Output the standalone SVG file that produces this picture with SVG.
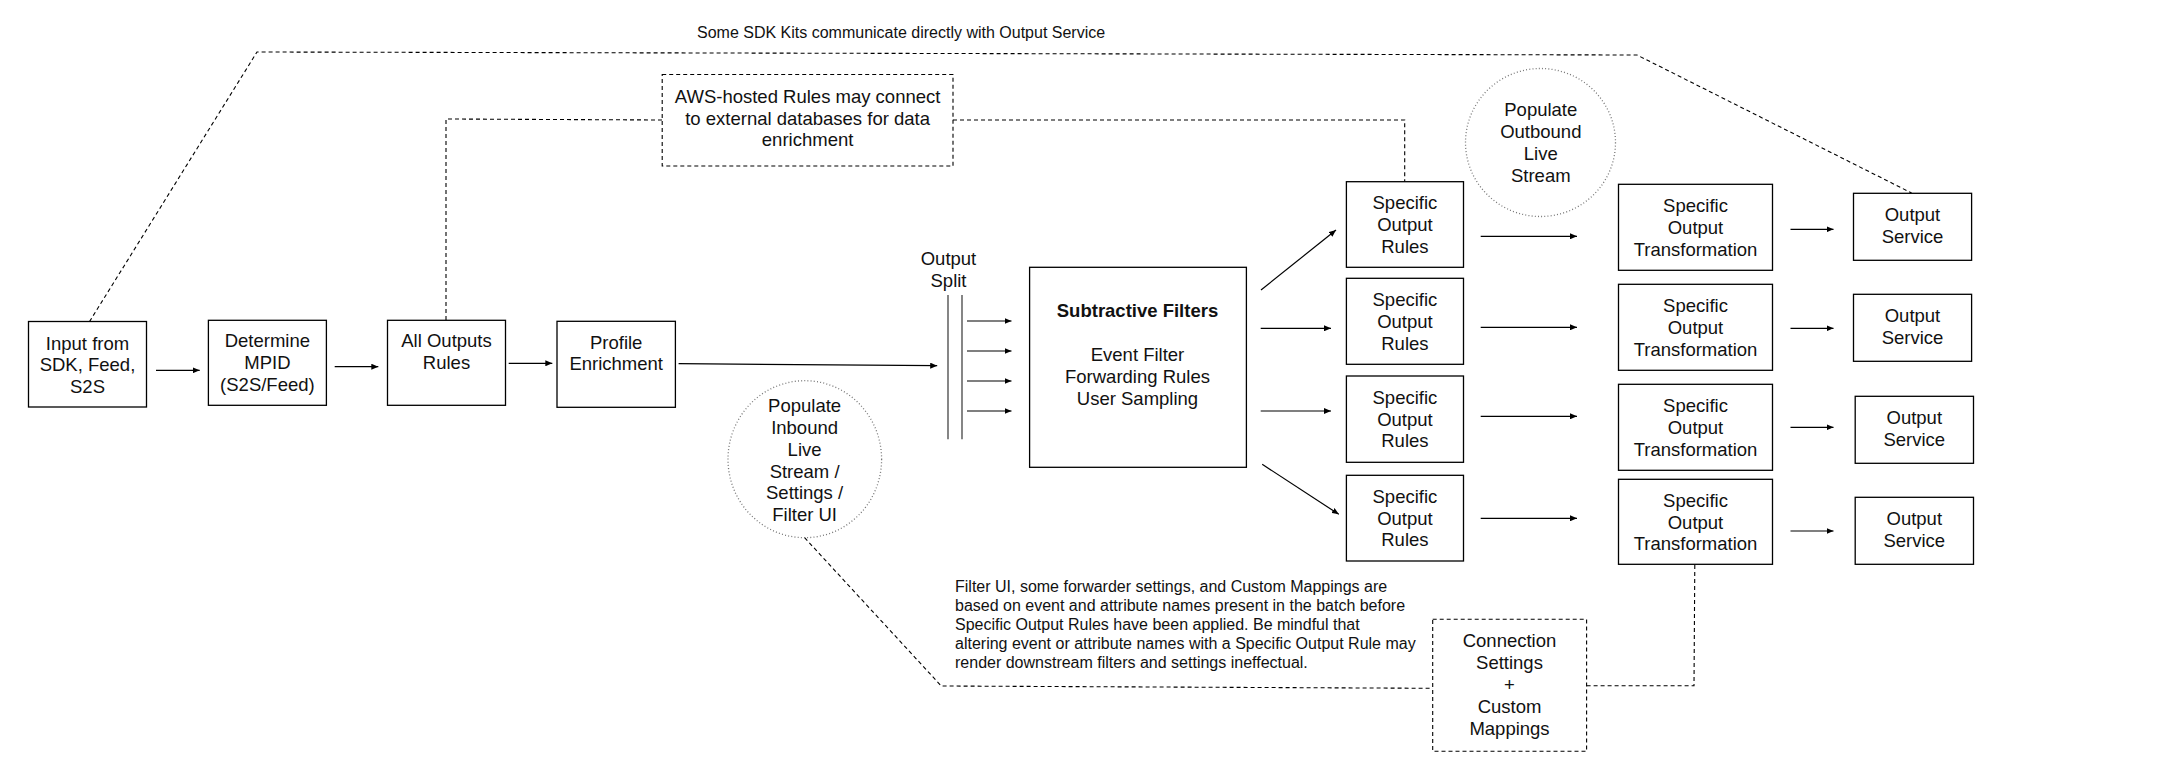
<svg xmlns="http://www.w3.org/2000/svg" width="2164" height="778" viewBox="0 0 2164 778">
<style>
.box{fill:#fff;stroke:#000;stroke-width:1.3}
.dbox{fill:#fff;stroke:#000;stroke-width:1.1;stroke-dasharray:4 3}
.dot{fill:none;stroke:#777;stroke-width:1.3;stroke-dasharray:1 2.2}
.t{font-family:"Liberation Sans",Arial,sans-serif;font-size:18.5px;fill:#111;text-anchor:middle}
.b{font-weight:bold}
.s{font-family:"Liberation Sans",Arial,sans-serif;font-size:16px;fill:#111}
.a{fill:none;stroke:#000;stroke-width:1.2;marker-end:url(#ah)}
.d{fill:none;stroke:#000;stroke-width:1.1;stroke-dasharray:4 3}
.sp{stroke:#444;stroke-width:1.3}
</style>
<defs>
<marker id="ah" markerUnits="userSpaceOnUse" markerWidth="8" markerHeight="6" refX="7" refY="3" orient="auto">
<path d="M0,0 L7,3 L0,6 z" fill="#000"/>
</marker>
</defs>
<rect width="2164" height="778" fill="#fff"/>
<g id="connectors">
<polyline class="d" points="89.5,321.6 257,52 1637,55 1911.6,193"/>
<polyline class="d" points="446,320 446,119 662.2,120"/>
<polyline class="d" points="953,120 1404.7,120 1404.7,181.7"/>
<polyline class="d" points="804.6,537.7 941.3,686 1432.7,688.3"/>
<polyline class="d" points="1586.6,685.7 1694,685.7 1694.8,564.3"/>
<line class="a" x1="156" y1="370.3" x2="199.7" y2="370.3"/>
<line class="a" x1="334.7" y1="366.7" x2="378.3" y2="366.7"/>
<line class="a" x1="508.7" y1="363.3" x2="552.3" y2="363.3"/>
<line class="a" x1="678.6" y1="363.7" x2="937.2" y2="365.7"/>
<line class="a" x1="967" y1="321" x2="1011.5" y2="321"/>
<line class="a" x1="967" y1="351" x2="1011.5" y2="351"/>
<line class="a" x1="967" y1="381" x2="1011.5" y2="381"/>
<line class="a" x1="967" y1="411" x2="1011.5" y2="411"/>
<line class="a" x1="1261" y1="290" x2="1336" y2="230"/>
<line class="a" x1="1260.7" y1="328.3" x2="1331" y2="328.3"/>
<line class="a" x1="1260.7" y1="411" x2="1331" y2="411"/>
<line class="a" x1="1262.2" y1="464.3" x2="1338.8" y2="514.3"/>
<line class="a" x1="1480.7" y1="236.3" x2="1577" y2="236.3"/>
<line class="a" x1="1480.7" y1="327.3" x2="1577" y2="327.3"/>
<line class="a" x1="1480.7" y1="416.3" x2="1577" y2="416.3"/>
<line class="a" x1="1480.7" y1="518.3" x2="1577" y2="518.3"/>
<line class="a" x1="1790.5" y1="229.3" x2="1833.5" y2="229.3"/>
<line class="a" x1="1790.5" y1="328.3" x2="1833.5" y2="328.3"/>
<line class="a" x1="1790.5" y1="427.3" x2="1833.5" y2="427.3"/>
<line class="a" x1="1790.5" y1="531" x2="1833.5" y2="531"/>
</g>
<g id="label-sdk"><text class="s" x="697" y="38">Some SDK Kits communicate directly with Output Service</text></g>
<g id="node-input"><rect class="box" x="28.5" y="321.5" width="118" height="85.5"/>
<text class="t" x="87.5" y="349.5">Input from</text><text class="t" x="87.5" y="371">SDK, Feed,</text><text class="t" x="87.5" y="392.5">S2S</text></g>
<g id="node-mpid"><rect class="box" x="208.4" y="320.3" width="118" height="85"/>
<text class="t" x="267.4" y="347">Determine</text><text class="t" x="267.4" y="369">MPID</text><text class="t" x="267.4" y="390.5">(S2S/Feed)</text></g>
<g id="node-allrules"><rect class="box" x="387.5" y="320.3" width="118" height="85"/>
<text class="t" x="446.5" y="347">All Outputs</text><text class="t" x="446.5" y="369">Rules</text></g>
<g id="node-profile"><rect class="box" x="557" y="321.3" width="118.4" height="86"/>
<text class="t" x="616.2" y="349">Profile</text><text class="t" x="616.2" y="370">Enrichment</text></g>
<g id="node-aws"><rect class="dbox" x="662.2" y="74.5" width="290.8" height="91.5"/>
<text class="t" x="807.6" y="102.5">AWS-hosted Rules may connect</text><text class="t" x="807.6" y="124.5">to external databases for data</text><text class="t" x="807.6" y="146">enrichment</text></g>
<g id="node-split">
<line class="sp" x1="948" y1="295" x2="948" y2="439.3"/><line class="sp" x1="962" y1="295" x2="962" y2="439.3"/>
<text class="t" x="948.5" y="265">Output</text><text class="t" x="948.5" y="286.5">Split</text></g>
<g id="node-filters"><rect class="box" x="1029.6" y="267.3" width="216.8" height="200"/>
<text class="t b" x="1137.5" y="316.5">Subtractive Filters</text>
<text class="t" x="1137.5" y="360.5">Event Filter</text><text class="t" x="1137.5" y="382.5">Forwarding Rules</text><text class="t" x="1137.5" y="405">User Sampling</text></g>
<g id="node-inbound"><ellipse class="dot" cx="804.8" cy="459.2" rx="76.8" ry="78.5"/>
<text class="t" x="804.6" y="411.8">Populate</text><text class="t" x="804.6" y="433.5">Inbound</text><text class="t" x="804.6" y="455.5">Live</text><text class="t" x="804.6" y="477.5">Stream /</text><text class="t" x="804.6" y="499.2">Settings /</text><text class="t" x="804.6" y="520.8">Filter UI</text></g>
<g id="node-outbound"><ellipse class="dot" cx="1540.5" cy="142.5" rx="75" ry="74"/>
<text class="t" x="1540.8" y="115.8">Populate</text><text class="t" x="1540.8" y="137.5">Outbound</text><text class="t" x="1540.8" y="159.8">Live</text><text class="t" x="1540.8" y="181.5">Stream</text></g>
<g id="node-sor1"><rect class="box" x="1346.4" y="181.7" width="117.1" height="85.6"/>
<text class="t" x="1404.9" y="209.2">Specific</text><text class="t" x="1404.9" y="231">Output</text><text class="t" x="1404.9" y="252.7">Rules</text></g>
<g id="node-sor2"><rect class="box" x="1346.4" y="278.3" width="117.1" height="86"/>
<text class="t" x="1404.9" y="306">Specific</text><text class="t" x="1404.9" y="327.8">Output</text><text class="t" x="1404.9" y="349.5">Rules</text></g>
<g id="node-sor3"><rect class="box" x="1346.4" y="376" width="117.1" height="86.3"/>
<text class="t" x="1404.9" y="403.8">Specific</text><text class="t" x="1404.9" y="425.6">Output</text><text class="t" x="1404.9" y="447.3">Rules</text></g>
<g id="node-sor4"><rect class="box" x="1346.4" y="475.3" width="117.1" height="85.7"/>
<text class="t" x="1404.9" y="502.9">Specific</text><text class="t" x="1404.9" y="524.7">Output</text><text class="t" x="1404.9" y="546.4">Rules</text></g>
<g id="node-sot1"><rect class="box" x="1618.5" y="184.3" width="154" height="86"/>
<text class="t" x="1695.5" y="212.2">Specific</text><text class="t" x="1695.5" y="234">Output</text><text class="t" x="1695.5" y="255.7">Transformation</text></g>
<g id="node-sot2"><rect class="box" x="1618.5" y="284.3" width="154" height="86"/>
<text class="t" x="1695.5" y="312.2">Specific</text><text class="t" x="1695.5" y="334">Output</text><text class="t" x="1695.5" y="355.7">Transformation</text></g>
<g id="node-sot3"><rect class="box" x="1618.5" y="384.3" width="154" height="86"/>
<text class="t" x="1695.5" y="412.2">Specific</text><text class="t" x="1695.5" y="434">Output</text><text class="t" x="1695.5" y="455.7">Transformation</text></g>
<g id="node-sot4"><rect class="box" x="1618.5" y="479.3" width="154" height="85"/>
<text class="t" x="1695.5" y="506.7">Specific</text><text class="t" x="1695.5" y="528.5">Output</text><text class="t" x="1695.5" y="550.2">Transformation</text></g>
<g id="node-os1"><rect class="box" x="1853.5" y="193.3" width="118.1" height="67"/>
<text class="t" x="1912.5" y="220.8">Output</text><text class="t" x="1912.5" y="242.5">Service</text></g>
<g id="node-os2"><rect class="box" x="1853.5" y="294.3" width="118.1" height="67"/>
<text class="t" x="1912.5" y="321.8">Output</text><text class="t" x="1912.5" y="343.5">Service</text></g>
<g id="node-os3"><rect class="box" x="1855.2" y="396.3" width="118.3" height="67"/>
<text class="t" x="1914.3" y="423.8">Output</text><text class="t" x="1914.3" y="445.5">Service</text></g>
<g id="node-os4"><rect class="box" x="1855.2" y="497.3" width="118.3" height="67"/>
<text class="t" x="1914.3" y="524.8">Output</text><text class="t" x="1914.3" y="546.5">Service</text></g>
<g id="node-note">
<text class="s" x="955" y="592.4">Filter UI, some forwarder settings, and Custom Mappings are</text>
<text class="s" x="955" y="611.4">based on event and attribute names present in the batch before</text>
<text class="s" x="955" y="630">Specific Output Rules have been applied. Be mindful that</text>
<text class="s" x="955" y="649">altering event or attribute names with a Specific Output Rule may</text>
<text class="s" x="955" y="668">render downstream filters and settings ineffectual.</text></g>
<g id="node-connection"><rect class="dbox" x="1432.7" y="619.3" width="153.9" height="132"/>
<text class="t" x="1509.5" y="646.5">Connection</text><text class="t" x="1509.5" y="668.8">Settings</text><text class="t" x="1509.5" y="690.5">+</text><text class="t" x="1509.5" y="713.2">Custom</text><text class="t" x="1509.5" y="734.8">Mappings</text></g>
</svg>
